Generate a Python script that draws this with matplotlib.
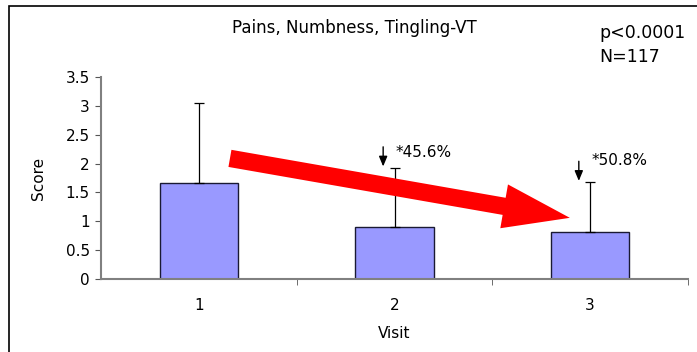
import numpy as np
import matplotlib
matplotlib.use('Agg')
from matplotlib import pyplot as plt
from matplotlib.patches import Rectangle

# data
visits = ['1', '2', '3']
scores = [1.67, 0.90, 0.81]
err_up = [1.38, 1.03, 0.87]
yticks = [0, 0.5, 1, 1.5, 2, 2.5, 3, 3.5]
ytick_labels = ['0', '0.5', '1', '1.5', '2', '2.5', '3', '3.5']
pct_labels = ['*45.6%', '*50.8%']

plt.rcParams['font.family'] = ['DejaVu Sans']

W, H = 697, 352
fig = plt.figure(figsize=(W / 100, H / 100), dpi=100)

# outer frame (runs off the right and bottom edge)
fig.patches.append(Rectangle((9 / W, -0.1), 1.2, 1 - 6 / H + 0.1,
                             transform=fig.transFigure, fill=False,
                             edgecolor='black', linewidth=1.2))

ax = fig.add_axes([101 / W, 1 - 279 / H, (688 - 101) / W, (279 - 77) / H])
x = np.arange(len(visits))
ax.bar(x, scores, width=0.4, color='#9999ff', edgecolor='#1a1a33', linewidth=1.0,
       yerr=[np.zeros(len(err_up)), err_up], capsize=3.3,
       error_kw=dict(ecolor='black', elinewidth=0.9, capthick=0.9))

ax.set_xlim(-0.5, 2.5)
ax.set_ylim(0, 3.5)
ax.set_yticks(yticks)
ax.set_yticklabels(ytick_labels)
ax.set_xticks(x)
ax.set_xticklabels(visits)
ax.set_xticks([0.5, 1.5, 2.5], minor=True)
ax.tick_params(axis='x', which='major', length=0, pad=14, labelsize=11)
ax.tick_params(axis='x', which='minor', length=4, color='#555555', direction='out')
ax.tick_params(axis='y', length=4, color='#555555', labelsize=11, pad=4)
for s in ['top', 'right']:
    ax.spines[s].set_visible(False)
for s in ['left', 'bottom']:
    ax.spines[s].set_color('#808080')
    ax.spines[s].set_linewidth(1.5)

ax.set_xlabel('Visit', fontsize=11, labelpad=9)
ax.set_ylabel('Score', fontsize=11, labelpad=14)

fig.text(354 / W, 1 - 28 / H, 'Pains, Numbness, Tingling-VT', ha='center', va='center', fontsize=12)
fig.text(599 / W, 1 - 33 / H, 'p<0.0001', ha='left', va='center', fontsize=12.5)
fig.text(599 / W, 1 - 57 / H, 'N=117', ha='left', va='center', fontsize=12.5)

# big red trend arrow
ax.annotate('', xy=(1.896, 1.06), xytext=(0.159, 2.09),
            arrowprops=dict(arrowstyle='simple,head_length=4.8,head_width=3.2,tail_width=1.25',
                            mutation_scale=10, color='red', shrinkA=0, shrinkB=0, linewidth=0))

# small down arrows with percent labels
for xi, top, lab, dy in zip(x[1:], np.add(scores, err_up)[1:], pct_labels, [0.26, 0.38]):
    ax.annotate('', xy=(xi - 0.058, top + 0.02), xytext=(xi - 0.058, top + 0.36),
                arrowprops=dict(arrowstyle='-|>,head_length=0.6,head_width=0.25',
                                color='black', lw=1, shrinkA=0, shrinkB=0))
    ax.text(xi + 0.005, top + dy, lab, ha='left', va='center', fontsize=11)

fig.savefig('out.png', dpi=100)
